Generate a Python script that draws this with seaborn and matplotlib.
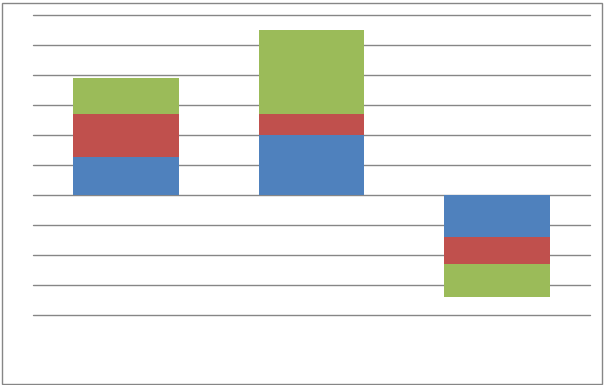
import seaborn as sns
import matplotlib.pyplot as plt
import matplotlib.patches as mpatches
import pandas as pd
import numpy as np

# data (gridline = 1 unit)
categories = ["A", "B", "C"]
blue = [1.27, 2.0, -1.4]
red = [1.43, 0.7, -0.9]
green = [1.2, 2.8, -1.1]

colors = {"blue": "#4F81BD", "red": "#C0504D", "green": "#9BBB59"}

df = pd.DataFrame({"cat": categories, "blue": blue, "red": red, "green": green})
df["blue_red"] = df["blue"] + df["red"]
df["total"] = df["blue_red"] + df["green"]

sns.set_style("white")
fig = plt.figure(figsize=(6.04, 3.85), dpi=100)
ax = fig.add_axes([33 / 604, 70 / 385, 557 / 604, 300 / 385])

# stacked bars by overdrawing cumulative sums
for col, c in [("total", "green"), ("blue_red", "red"), ("blue", "blue")]:
    sns.barplot(data=df, x="cat", y=col, color=colors[c], width=0.57,
                saturation=1, linewidth=0, edgecolor="none", ax=ax, zorder=3)

ax.set_xlim(-0.5, 2.5)
ax.set_ylim(-4, 6)
ax.set_yticks(np.arange(-4, 7, 1))
ax.yaxis.grid(True, color="#868686", linewidth=1)
for gl in ax.get_ygridlines():
    gl.set_clip_on(False)
ax.set_axisbelow(True)
ax.tick_params(left=False, bottom=False, labelleft=False, labelbottom=False)
ax.set_xlabel("")
ax.set_ylabel("")
sns.despine(ax=ax, left=True, bottom=True)

# outer chart border
fig.patches.append(mpatches.Rectangle((1.5 / 604, 1.5 / 385), 600 / 604, 381 / 385,
                                      transform=fig.transFigure, fill=False,
                                      edgecolor="#868686", linewidth=1))

plt.savefig("out.png", dpi=100)
